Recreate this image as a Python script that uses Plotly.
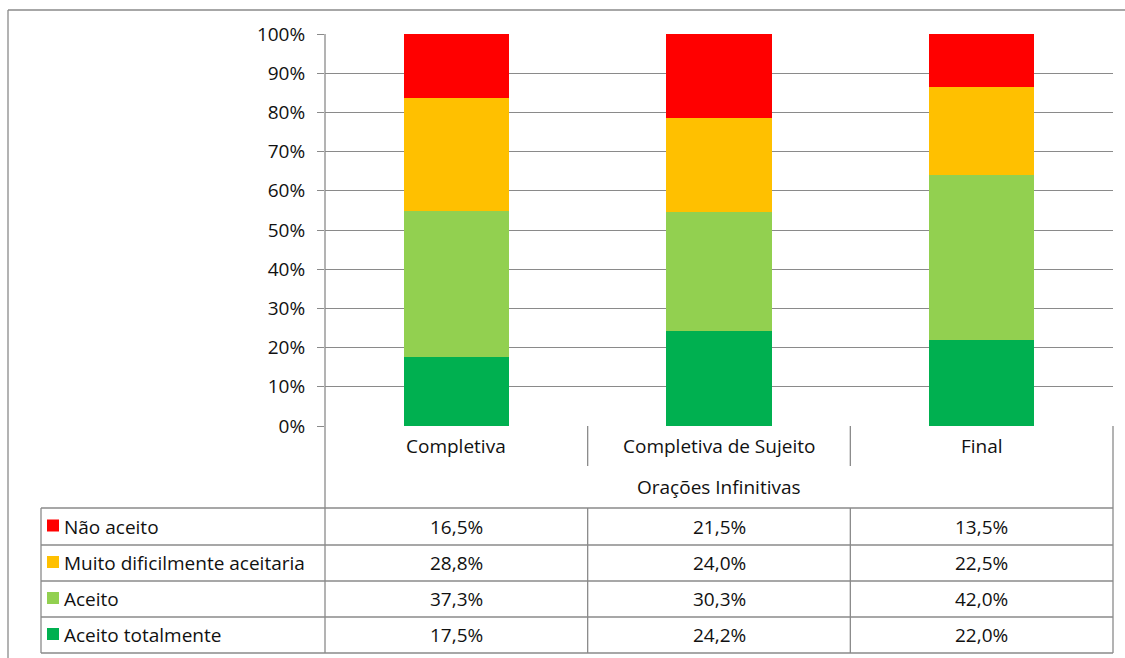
import plotly.graph_objects as go

categories = ["Completiva", "Completiva de Sujeito", "Final"]
group_label = "Orações Infinitivas"

# series listed bottom-to-top in the stack
series_names = ["Aceito totalmente", "Aceito", "Muito dificilmente aceitaria", "Não aceito"]
aceito_totalmente = [17.5, 24.2, 22.0]
aceito = [37.3, 30.3, 42.0]
muito_dificilmente = [28.8, 24.0, 22.5]
nao_aceito = [16.5, 21.5, 13.5]
series_values = [aceito_totalmente, aceito, muito_dificilmente, nao_aceito]
series_colors = ["#00B050", "#92D050", "#FFC000", "#FF0000"]

y_ticks = list(range(0, 101, 10))
y_tick_text = [f"{t}%" for t in y_ticks]

W, H = 1125, 658
FONT = "Open Sans, Calibri, Carlito, sans-serif"
GRID = "#8a8a8a"
TXT = "#111111"
FS = 19


def px(x):
    return x / W


def py(y):
    return 1 - y / H


# plot area in pixels
X0, X1 = 325, 1113
Y_TOP, Y_ZERO = 34, 426
CAT_BOTTOM = 466
GROUP_BOTTOM = 508
ROW_EDGES = [508, 545, 581, 617, 653]
TABLE_LEFT = 41

fig = go.Figure()
for name, vals, col in zip(series_names, series_values, series_colors):
    fig.add_trace(go.Bar(
        x=list(range(len(categories))), y=vals, name=name,
        marker=dict(color=col, line=dict(width=0)), width=0.4,
        showlegend=False,
    ))

shapes = []
line = dict(color=GRID, width=1.3)

# outer chart border (top and left)
shapes.append(dict(type="line", xref="paper", yref="paper", x0=px(8), x1=1.0,
                   y0=py(10), y1=py(10), line=line))
shapes.append(dict(type="line", xref="paper", yref="paper", x0=px(8), x1=px(8),
                   y0=py(10), y1=0, line=line))

# value axis line continuing down through the data table
shapes.append(dict(type="line", xref="paper", yref="paper", x0=px(X0), x1=px(X0),
                   y0=py(Y_TOP), y1=py(ROW_EDGES[-1]), line=line))
# right edge of the table
shapes.append(dict(type="line", xref="paper", yref="paper", x0=px(X1), x1=px(X1),
                   y0=py(Y_ZERO), y1=py(ROW_EDGES[-1]), line=line))
# dividers between category cells
for i in range(len(categories) - 1):
    shapes.append(dict(type="line", xref="x", yref="paper", x0=i + 0.5, x1=i + 0.5,
                       y0=py(Y_ZERO), y1=py(CAT_BOTTOM), line=line))
# series rows
for y in ROW_EDGES:
    shapes.append(dict(type="line", xref="paper", yref="paper", x0=px(TABLE_LEFT), x1=px(X1),
                       y0=py(y), y1=py(y), line=line))
shapes.append(dict(type="line", xref="paper", yref="paper", x0=px(TABLE_LEFT), x1=px(TABLE_LEFT),
                   y0=py(ROW_EDGES[0]), y1=py(ROW_EDGES[-1]), line=line))
for i in range(len(categories) - 1):
    shapes.append(dict(type="line", xref="x", yref="paper", x0=i + 0.5, x1=i + 0.5,
                       y0=py(ROW_EDGES[0]), y1=py(ROW_EDGES[-1]), line=line))

annotations = []
font = dict(family=FONT, size=FS, color=TXT)

for i, c in enumerate(categories):
    annotations.append(dict(x=i, y=py((Y_ZERO + CAT_BOTTOM) / 2), xref="x", yref="paper",
                            text=c, showarrow=False, font=font, xanchor="center", yanchor="middle"))
annotations.append(dict(x=px((X0 + X1) / 2), y=py((CAT_BOTTOM + GROUP_BOTTOM) / 2), xref="paper",
                        yref="paper", text=group_label, showarrow=False, font=font,
                        xanchor="center", yanchor="middle"))

# table rows listed top-to-bottom
for r, idx in enumerate(reversed(range(len(series_names)))):
    yc = (ROW_EDGES[r] + ROW_EDGES[r + 1]) / 2
    shapes.append(dict(type="rect", xref="paper", yref="paper", x0=px(47), x1=px(59),
                       y0=py(yc - 1 - 6), y1=py(yc - 1 + 6),
                       fillcolor=series_colors[idx], line=dict(width=0)))
    annotations.append(dict(x=px(62), y=py(yc), xref="paper", yref="paper",
                            text=series_names[idx], showarrow=False, font=font,
                            xanchor="left", yanchor="middle"))
    for i, v in enumerate(series_values[idx]):
        label = f"{v:.1f}".replace(".", ",") + "%"
        annotations.append(dict(x=i, y=py(yc), xref="x", yref="paper", text=label,
                                showarrow=False, font=font, xanchor="center", yanchor="middle"))

fig.update_layout(
    width=W, height=H,
    margin=dict(l=0, r=0, t=0, b=0, pad=0, autoexpand=False),
    paper_bgcolor="white", plot_bgcolor="white",
    barmode="stack", bargap=0.6,
    font=dict(family=FONT, size=FS, color=TXT),
    xaxis=dict(domain=[px(X0), px(X1)], range=[-0.5, len(categories) - 0.5],
               showticklabels=False, showgrid=False, zeroline=False, showline=False,
               fixedrange=True, automargin=False),
    yaxis=dict(domain=[py(Y_ZERO), py(Y_TOP)], range=[0, 100], tickmode="array",
               tickvals=y_ticks, ticktext=y_tick_text,
               showgrid=True, gridcolor=GRID, gridwidth=1.3,
               zeroline=False, showline=False, ticks="outside", ticklen=7,
               tickcolor=GRID, tickwidth=1.3, tickfont=font, ticklabelstandoff=8,
               fixedrange=True, automargin=False),
    shapes=shapes,
    annotations=annotations,
)

fig.write_html("out.html")
